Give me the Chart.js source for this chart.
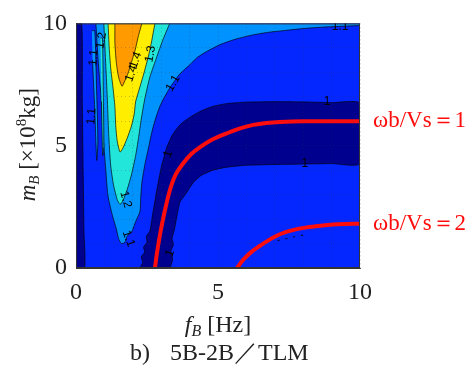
<!DOCTYPE html>
<html>
<head>
<meta charset="utf-8">
<script src="https://cdn.jsdelivr.net/npm/chart.js@4/dist/chart.umd.min.js"></script>
<style>
  html, body { margin: 0; background: #fff; }
</style>
</head>
<body>
<canvas id="chart" width="476" height="369"></canvas>
<script>
// contour map of f_B [Hz] vs m_B [x10^8 kg], filled levels
// each region is a closed outline of [f, m] points

const navyBand = [ // value < 1
  [2.25,0],[2.35,0.25],[2.3,0.45],[2.42,0.65],[2.38,0.85],[2.5,1.05],[2.48,1.3],[2.6,1.5],
  [2.7,2.2],[2.85,3.2],[3.0,4.1],[3.2,4.94],[3.4,5.45],[3.66,5.85],[4.0,6.15],[4.37,6.4],
  [4.8,6.6],[5.3,6.72],[6.0,6.78],[7.0,6.8],[8.0,6.79],[9.0,6.76],[10,6.73],
  [10,4.27],[9,4.27],[8,4.25],[7,4.23],[6,4.2],[5.3,4.12],[4.82,4.0],[4.4,3.78],[4.12,3.48],
  [3.85,3.0],[3.66,2.69],[3.55,2.1],[3.45,1.5],[3.38,1.2],[3.43,0.95],[3.34,0.7],[3.4,0.35],[3.31,0]
];
const navyStrip = [[0,0],[0.3,0],[0.28,1.5],[0.25,4],[0.22,7],[0.2,10],[0,10]];

const lightBlue = [ // 1.1 - 1.2
  [0.7,10],[0.78,8.5],[0.88,7],[0.95,5.5],[1.05,4],[1.12,3],[1.27,2.2],[1.42,1.6],[1.5,1.2],
  [1.6,1.0],[1.72,1.05],[1.8,1.3],[1.97,1.5],[2.1,1.9],[2.25,2.3],[2.28,2.9],[2.32,3.5],
  [2.42,4.2],[2.55,4.9],[2.68,5.6],[2.8,6.1],[2.95,6.6],[3.12,7.0],[3.35,7.45],[3.66,7.94],
  [4.0,8.3],[4.26,8.6],[4.6,8.85],[5.07,9.13],[5.6,9.35],[6.23,9.53],[6.8,9.64],[7.43,9.72],
  [8.0,9.79],[8.6,9.84],[9.3,9.88],[10,9.92],[10,10]
];
const lightStripe = [[0.56,9.7],[0.66,9.7],[0.72,7.5],[0.77,5.2],[0.73,4.4],[0.66,6.5],[0.58,8.5]];

const cyan = [ // 1.2 - 1.3
  [0.98,10],[1.04,8.5],[1.1,7],[1.15,5.5],[1.22,4.2],[1.32,3.4],[1.45,2.8],[1.55,2.6],[1.65,2.75],
  [1.8,3.2],[1.95,3.8],[2.1,4.6],[2.2,5.3],[2.3,6.1],[2.42,6.9],[2.6,7.8],[2.85,8.65],[3.05,9.3],[3.3,10]
];
const cyanStripe = [[0.86,9.4],[0.93,9.4],[0.96,7.2],[0.98,5.0],[0.94,4.6],[0.9,6.8]];
const yellow = [ // 1.3 - 1.4
  [1.13,10],[1.17,9],[1.22,8.2],[1.3,7.4],[1.37,6.6],[1.4,5.8],[1.45,5.2],[1.55,4.74],[1.65,4.9],
  [1.8,5.3],[1.95,5.8],[2.05,6.3],[2.1,6.8],[2.25,7.4],[2.4,8.0],[2.6,8.9],[2.78,10]
];
const orange = [ // > 1.4
  [1.37,10],[1.37,9.2],[1.42,8.4],[1.5,7.8],[1.62,7.43],[1.7,7.6],[1.83,7.95],[1.95,8.4],
  [2.08,8.9],[2.2,9.5],[2.32,10]
];
const smallContour = [[7.1,1.12],[7.4,1.2],[7.7,1.28],[8.0,1.35]];

// ωb/Vs = 1 and ωb/Vs = 2
const omega1 = [
  [2.78,0],[2.85,0.6],[2.96,1.38],[3.12,2.3],[3.31,3.2],[3.5,3.8],[3.77,4.27],[4.05,4.65],
  [4.37,4.94],[4.8,5.25],[5.3,5.5],[5.75,5.7],[6.24,5.85],[6.7,5.93],[7.18,5.97],[8,6.0],[9,6.0],[10,6.0]
];
const omega2 = [
  [5.67,0],[5.9,0.35],[6.2,0.68],[6.48,0.91],[6.8,1.15],[7.18,1.38],[7.6,1.54],[8.13,1.66],
  [8.6,1.73],[9.05,1.78],[9.5,1.8],[10,1.81]
];
const omegaText = ['ωb/Vs＝1', 'ωb/Vs＝2'];
const omegaM    = [6.0, 1.81];

// contour level labels
const lvlText = ['1.1','1','1','1','1','1.1','1.3','1.4','1.4','1.2','1.1','1.1','1.2','1.1'];
const lvlF    = [9.3, 8.84,8.06,3.24,3.31,3.42,2.62,1.95,2.1, 1.75,1.85,0.62,0.9, 0.55];
const lvlM    = [9.88,6.78,4.27,4.66,0.6, 7.55,8.75,7.95,8.5, 2.8, 1.2, 8.6, 9.3, 6.2];
const lvlRot  = [0,   0,   0,  -70, -70, -60, -80, -70, -70,  75,  70, -85, -80, -85];

const xTicks = [0, 5, 10];
const yTicks = [0, 5, 10];

const C = {
  blue: '#0426ff', navy: '#00008e', light: '#0092ff', cyan: '#22e6da',
  yellow: '#ffee00', orange: '#ff9a00', red: '#ff0d0d'
};
const serif = "'Liberation Serif', 'Times New Roman', serif";

const pts = arr => arr.map(p => ({ x: p[0], y: p[1] }));

function region(data, color, order) {
  return {
    data: pts(data), showLine: true, fill: 'shape', backgroundColor: color,
    borderColor: 'rgba(0,0,0,0.85)', borderWidth: 0.8, pointRadius: 0, tension: 0.2, order,
  };
}

// blue base level under all regions
const baseFill = {
  id: 'baseFill',
  beforeDatasetsDraw(chart) {
    const { ctx, chartArea: a } = chart;
    ctx.save();
    ctx.fillStyle = C.blue;
    ctx.fillRect(a.left, a.top, a.right - a.left, a.bottom - a.top);
    ctx.restore();
  },
};

function drawRuns(ctx, runs, x, y) {
  let total = 0;
  runs.forEach(r => { ctx.font = r[1]; total += ctx.measureText(r[0]).width; });
  let cx = x - total / 2;
  runs.forEach(r => {
    ctx.font = r[1];
    ctx.fillText(r[0], cx, y + (r[2] || 0));
    cx += ctx.measureText(r[0]).width;
  });
}

const annotations = {
  id: 'annotations',
  afterDraw(chart) {
    const { ctx, chartArea: a } = chart;
    const xs = chart.scales.x, ys = chart.scales.y;
    ctx.save();

    // frame
    ctx.strokeStyle = '#333';
    ctx.lineWidth = 1;
    ctx.strokeRect(a.left + 0.5, a.top + 0.5, a.right - a.left - 1, a.bottom - a.top - 1);

    // contour labels
    ctx.fillStyle = '#000';
    ctx.font = "12px 'Liberation Sans', Arial, sans-serif";
    ctx.textAlign = 'center';
    ctx.textBaseline = 'middle';
    ctx.save();
    ctx.beginPath();
    ctx.rect(a.left, a.top, a.right - a.left, a.bottom - a.top);
    ctx.clip();
    lvlText.forEach((t, i) => {
      ctx.save();
      ctx.translate(xs.getPixelForValue(lvlF[i]), ys.getPixelForValue(lvlM[i]));
      ctx.rotate(lvlRot[i] * Math.PI / 180);
      ctx.fillText(t, 0, 0);
      ctx.restore();
    });
    ctx.restore();

    // ωb/Vs labels
    ctx.fillStyle = C.red;
    ctx.textAlign = 'left';
    ctx.font = '23px ' + serif;
    omegaText.forEach((t, i) => ctx.fillText(t, a.right + 13, ys.getPixelForValue(omegaM[i])));

    // axis titles
    ctx.fillStyle = '#222';
    ctx.textAlign = 'left';
    ctx.textBaseline = 'alphabetic';
    drawRuns(ctx, [
      ['f', 'italic 24px ' + serif], ['B', 'italic 16px ' + serif, 4], [' [Hz]', '24px ' + serif]
    ], (a.left + a.right) / 2, 332);

    ctx.save();
    ctx.translate(35, (a.top + a.bottom) / 2 - 1);
    ctx.rotate(-Math.PI / 2);
    drawRuns(ctx, [
      ['m', 'italic 23px ' + serif], ['B', 'italic 15px ' + serif, 4], [' [×10', '23px ' + serif],
      ['8', '15px ' + serif, -9], ['kg]', '23px ' + serif]
    ], 0, 0);
    ctx.restore();

    // caption
    ctx.font = '24px ' + serif;
    ctx.fillText('b)', 130, 360);
    ctx.fillText('5B-2B／TLM', 170, 360);
    ctx.restore();
  },
};

new Chart(document.getElementById('chart'), {
  type: 'scatter',
  data: {
    datasets: [
      { data: pts(omega1), showLine: true, borderColor: C.red, borderWidth: 4, pointRadius: 0, tension: 0.3, order: 0 },
      { data: pts(omega2), showLine: true, borderColor: C.red, borderWidth: 4, pointRadius: 0, tension: 0.3, order: 0 },
      { data: pts(smallContour), showLine: true, borderColor: '#000', borderWidth: 1, borderDash: [2, 6], pointRadius: 0, order: 1 },
      region(orange, C.orange, 2),
      region(yellow, C.yellow, 3),
      region(cyan, C.cyan, 4),
      region(cyanStripe, C.cyan, 5),
      region(lightStripe, C.light, 5),
      region(lightBlue, C.light, 6),
      region(navyStrip, C.navy, 7),
      region(navyBand, C.navy, 8),
    ],
  },
  options: {
    responsive: false,
    animation: false,
    layout: { padding: { left: 26, right: 116, top: 15, bottom: 56 } },
    plugins: { legend: { display: false }, tooltip: { enabled: false } },
    scales: {
      x: {
        type: 'linear', min: 0, max: 10,
        afterFit: s => { s.height = 45; },
        afterBuildTicks: s => { s.ticks = Array.from({ length: 11 }, (_, i) => ({ value: i })); },
        ticks: {
          autoSkip: false, maxRotation: 0, padding: 10, color: '#222',
          font: { family: serif, size: 24 },
          callback: v => xTicks.includes(v) ? String(v) : '',
        },
        grid: { color: 'rgba(60,60,60,0.4)', lineWidth: 0.7, drawTicks: false, z: 1 },
        border: { display: true, color: '#333', dash: [1, 3], z: 1 },
      },
      y: {
        type: 'linear', min: 0, max: 10,
        afterFit: s => { s.width = 50; },
        afterBuildTicks: s => { s.ticks = Array.from({ length: 11 }, (_, i) => ({ value: i })); },
        ticks: {
          autoSkip: false, padding: 9, color: '#222',
          font: { family: serif, size: 24 },
          callback: v => yTicks.includes(v) ? String(v) : '',
        },
        grid: { color: 'rgba(60,60,60,0.4)', lineWidth: 0.7, drawTicks: false, z: 1 },
        border: { display: true, color: '#333', dash: [1, 3], z: 1 },
      },
    },
  },
  plugins: [baseFill, annotations],
});
</script>
</body>
</html>
